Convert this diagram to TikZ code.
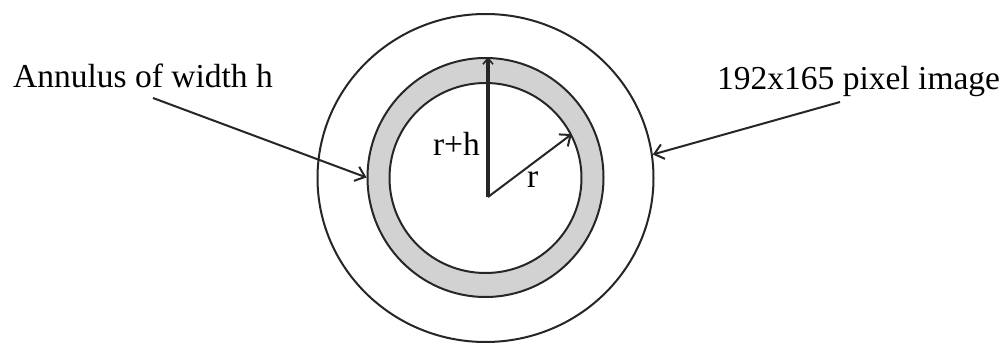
\documentclass[tikz,border=0pt]{standalone}
\usepackage{fontspec}
\setmainfont{Liberation Serif}
\usetikzlibrary{shapes.geometric,arrows.meta}
\tikzset{
  ring/.style={ellipse,draw=black!85,line width=2pt,inner sep=0pt},
  lbl/.style={inner sep=0pt,font=\fontsize{33.5}{40}\selectfont},
  ptr/.style={draw=black!85,line width=2pt,-{Straight Barb[length=9pt,width=15pt,line width=2pt]}},
}
\begin{document}
\begin{tikzpicture}[x=1pt,y=-1pt]
\useasboundingbox (0,0) rectangle (1005,345);
\fill[white] (0,0) rectangle (1005,345);
\node[ring,minimum width=336pt,minimum height=328pt] (outer) at (485.5,178) {};
\node[ring,fill=gray!35,minimum width=236pt,minimum height=239pt] (ann) at (485.5,177.5) {};
\node[ring,fill=white,minimum width=192pt,minimum height=190pt] (hole) at (485.5,178) {};
\node[lbl,anchor=base west] (lA) at (13,88) {Annulus of width h};
\node[lbl,anchor=base west] (lB) at (717,90) {192x165 pixel image};
\node[lbl,anchor=base east] (lrh) at (480,155) {r+h};
\node[lbl,anchor=base west] (lr) at (527,187) {r};
\coordinate (a1) at (153,98);
\coordinate (a2) at (840,102);
\coordinate (c) at (488,197);
\draw[ptr] (a1) -- (ann.west);
\draw[ptr] (a2) -- (outer.8);
\draw[line width=3.2pt,draw=black!85,-{Straight Barb[length=6pt,width=10pt,line width=1.6pt]}] (c) -- (c |- ann.north);
\draw[ptr] (c) -- (hole.27);
\end{tikzpicture}
\end{document}
